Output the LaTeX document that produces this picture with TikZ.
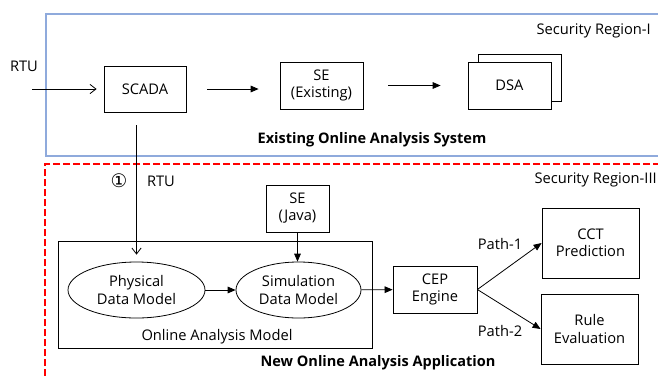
\documentclass[tikz,border=0pt]{standalone}
\usepackage{fontspec}
\setmainfont{Open Sans}
\newfontfamily\symfont{DejaVu Sans}
\usetikzlibrary{arrows.meta,shapes.geometric}
\definecolor{regblue}{HTML}{8FAADC}
\definecolor{regred}{HTML}{FF0000}
\tikzset{%
  sbox/.style={draw,line width=.6pt,align=center,inner sep=0pt,minimum width=62.25pt,minimum height=35.25pt},
  eloval/.style={draw,line width=.6pt,shape=ellipse,align=center,inner sep=0pt,minimum height=42pt},
  fedge/.style={draw,line width=.6pt,-{Triangle[length=6pt,width=5pt]}},
  oedge/.style={draw,line width=.6pt,-{Straight Barb[length=4.5pt,width=7pt]}},
  plain/.style={inner sep=0pt,align=center},
  bfont/.style={font=\fontsize{10.9}{13}\selectfont\bfseries}
}

\begin{document}
\begin{tikzpicture}[x=.75pt,y=-.75pt,font=\fontsize{11}{12.8}\selectfont]
    \clip (0,0) rectangle (658,376);
    % security regions
    \draw[line width=2.2pt,regblue] (680,14) -- (46,14) -- (46,156) -- (680,156);
    \draw[line width=2.2pt,regred,dash pattern=on 5.25pt off 2.25pt] (680,164) -- (45,164) -- (45,400);
    \path
      (145,89) node[sbox,minimum width=61.5pt,minimum height=34.5pt] (scada) {SCADA}
      (321.5,85.5) node[sbox] (se) {SE\\(Existing)}
      (520,77.5) node[sbox,fill=white] (dsab) {}
      (509.5,85.5) node[sbox,fill=white] (dsa) {DSA};
    \path
      (297.5,208.5) node[sbox,minimum width=47.25pt] (sej) {SE\\(Java)}
      (215,294.5) node[sbox,minimum width=235.5pt,minimum height=80.25pt] (oam) {}
      (136.5,290) node[eloval,minimum width=102.75pt] (phys) {Physical\\Data Model}
      (298.5,290) node[eloval,minimum width=93.75pt] (sim) {Simulation\\Data Model}
      (435,289.5) node[sbox,minimum width=63pt] (cep) {CEP\\Engine}
      (590.5,243) node[sbox,minimum width=72.75pt,minimum height=52.5pt] (cct) {CCT\\Prediction}
      (589.5,329) node[sbox,minimum width=72.75pt,minimum height=52.5pt] (rule) {Rule\\Evaluation};
    % texts
    \path
      (24,66) node[plain] (rtuin) {RTU}
      (651,31) node[plain,anchor=east] (reg1) {Security Region-I}
      (372,140) node[plain,bfont] (sys1) {Existing Online Analysis System}
      (657,180) node[plain,anchor=east] (reg3) {Security Region-III}
      (119,181) node[plain,font=\symfont\fontsize{14}{14}\selectfont] (num1) {①}
      (161,181) node[plain] (rtu2) {RTU}
      (217,337) node[plain] (oamlbl) {Online Analysis Model}
      (378,363) node[plain,bfont] (app) {New Online Analysis Application}
      (500,244) node[plain] (p1) {Path-1}
      (500,331) node[plain] (p2) {Path-2};
    \coordinate (rtuend) at (32,89);
    \draw[oedge,shorten >=5.25pt] (rtuend) -- (scada.west);
    \draw[fedge,shorten <=15.75pt,shorten >=15.75pt] (scada.east) -- (se.west |- scada.east);
    \draw[fedge,shorten <=18.75pt,shorten >=20.25pt] (se.east) -- (dsa.west);
    \draw[oedge,shorten <=9.75pt,shorten >=5.25pt] (phys.north |- scada.south) -- (phys.north);
    \draw[fedge] (sej.south) -- (sej.south |- sim.north);
    \draw[fedge] (phys) -- (sim);
    \draw[fedge] (sim) -- (cep);
    \draw[fedge] (cep.east) -- (cct.west);
    \draw[fedge] (cep.east) -- (rule.west);
\end{tikzpicture}
\end{document}
